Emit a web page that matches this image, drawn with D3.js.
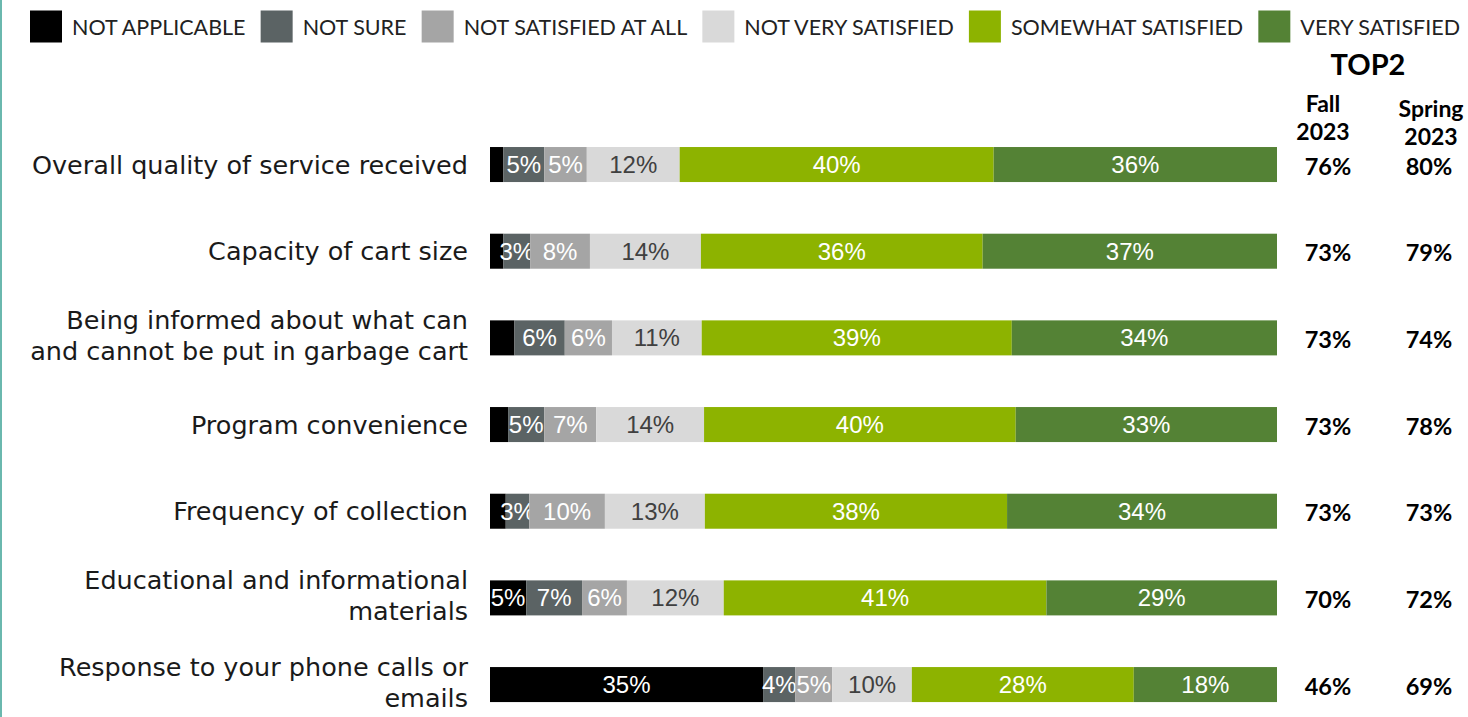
<!DOCTYPE html>
<html>
<head>
<meta charset="utf-8">
<script src="https://cdn.jsdelivr.net/npm/d3@7"></script>
<style>
  body { margin: 0; background: #fff; overflow: hidden; }
  svg { display: block; }
</style>
</head>
<body>
<svg id="chart" width="1468" height="717"></svg>
<script>
// ---- data ----
var categories = [
  "Overall quality of service received",
  "Capacity of cart size",
  "Being informed about what can\nand cannot be put in garbage cart",
  "Program convenience",
  "Frequency of collection",
  "Educational and informational\nmaterials",
  "Response to your phone calls or\nemails"
];
var seriesNames = ["NOT APPLICABLE", "NOT SURE", "NOT SATISFIED AT ALL", "NOT VERY SATISFIED", "SOMEWHAT SATISFIED", "VERY SATISFIED"];
var seriesColors = ["#000000", "#5b6364", "#a5a5a5", "#d9d9d9", "#8db300", "#548235"];
var labelColors = ["#ffffff", "#ffffff", "#ffffff", "#404040", "#ffffff", "#ffffff"];
var labelMin = [4, 0, 0, 0, 0, 0];   // small "not applicable" slices carry no label

var notApplicable     = [1.7, 1.7, 3.1, 2.3, 2.0, 4.6, 34.7];
var notSure           = [5.2, 3.4, 6.4, 4.6, 3.0, 7.1, 4.1];
var notSatisfiedAtAll = [5.4, 7.6, 6.0, 6.6, 9.6, 5.7, 4.7];
var notVerySatisfied  = [11.8, 14.1, 11.4, 13.7, 12.7, 12.3, 10.1];
var somewhatSatisfied = [39.9, 35.8, 39.4, 39.6, 38.4, 41.0, 28.2];
var verySatisfied     = [36.0, 37.4, 33.7, 33.2, 34.3, 29.3, 18.2];

var top2Title = "TOP2";
var top2Columns = ["Fall\n2023", "Spring\n2023"];
var top2Fall   = [76, 73, 73, 73, 73, 70, 46];
var top2Spring = [80, 79, 74, 78, 73, 72, 69];

// ---- setup ----
var W = 1468, H = 717;
var labelFont = "'DejaVu Sans', Lato, sans-serif";
var legendFont = "Lato, 'Open Sans', sans-serif";
var barFont = "'Liberation Sans', Arial, sans-serif";

var svg = d3.select("#chart");

// teal rule on the left edge of the slide
svg.append("rect")
    .attr("x", 0).attr("y", 0)
    .attr("width", 2).attr("height", H)
    .attr("fill", "#6ab8ae");

var series = [notApplicable, notSure, notSatisfiedAtAll, notVerySatisfied, somewhatSatisfied, verySatisfied];
var rows = categories.map(function(c, i) {
  var r = { cat: c, idx: i };
  series.forEach(function(s, k) { r[k] = s[i]; });
  return r;
});

var x = d3.scaleLinear()
    .domain([0, 100])
    .range([490, 1277]);

var y = d3.scaleBand()
    .domain(d3.range(categories.length))
    .range([121.2, 727.9])
    .paddingInner(0.596)
    .paddingOuter(0.298);

var stacked = d3.stack().keys(d3.range(series.length))(rows);

// ---- bars ----
var layer = svg.selectAll(".layer")
    .data(stacked)
  .enter().append("g")
    .attr("class", "layer")
    .attr("fill", function(d) { return seriesColors[d.key]; });

layer.selectAll("rect")
    .data(function(d) { return d; })
  .enter().append("rect")
    .attr("x", function(d) { return x(d[0]); })
    .attr("y", function(d) { return y(d.data.idx); })
    .attr("width", function(d) { return x(d[1]) - x(d[0]); })
    .attr("height", y.bandwidth());

layer.selectAll("text")
    .data(function(d) { return d.map(function(e) { e.key = d.key; return e; }); })
  .enter().filter(function(d) { return (d[1] - d[0]) >= labelMin[d.key]; })
  .append("text")
    .attr("x", function(d) { return (x(d[0]) + x(d[1])) / 2; })
    .attr("y", function(d) { return y(d.data.idx) + y.bandwidth() / 2 + 8.5; })
    .attr("text-anchor", "middle")
    .attr("font-family", barFont)
    .attr("font-size", "24px")
    .attr("fill", function(d) { return labelColors[d.key]; })
    .text(function(d) { return Math.round(d[1] - d[0]) + "%"; });

// ---- category labels ----
var catLabel = svg.append("g").selectAll("text")
    .data(rows)
  .enter().append("text")
    .attr("text-anchor", "end")
    .attr("font-family", labelFont)
    .attr("font-size", "25.5px")
    .attr("fill", "#1a1a1a")
    .attr("y", function(d) {
      var lines = d.cat.split("\n").length;
      var mid = y(d.idx) + y.bandwidth() / 2;
      return lines > 1 ? mid - 9 : mid + 9;
    });

catLabel.selectAll("tspan")
    .data(function(d) { return d.cat.split("\n"); })
  .enter().append("tspan")
    .attr("x", 468)
    .attr("dy", function(d, i) { return i ? 31 : 0; })
    .text(function(d) { return d; });

// ---- TOP2 columns ----
var col = d3.scalePoint()
    .domain(d3.range(top2Columns.length))
    .range([1328, 1429]);

svg.append("text")
    .attr("x", 1368)
    .attr("y", 75)
    .attr("text-anchor", "middle")
    .attr("font-family", legendFont)
    .attr("font-weight", "bold")
    .attr("font-size", "29px")
    .attr("fill", "#000")
    .text(top2Title);

var head = svg.append("g").selectAll("text")
    .data(top2Columns)
  .enter().append("text")
    .attr("text-anchor", "middle")
    .attr("font-family", legendFont)
    .attr("font-weight", "bold")
    .attr("font-size", "23px")
    .attr("fill", "#000")
    .attr("y", function(d, i) { return i ? 117 : 112; });

head.selectAll("tspan")
    .data(function(d, i) { return d.split("\n").map(function(t) { return { t: t, c: i }; }); })
  .enter().append("tspan")
    .attr("x", function(d) { return col(d.c) - (d.c ? -2 : 5); })
    .attr("dy", function(d, i) { return i ? 27.5 : 0; })
    .text(function(d) { return d.t; });

[top2Fall, top2Spring].forEach(function(vals, c) {
  svg.append("g").selectAll("text")
      .data(vals)
    .enter().append("text")
      .attr("x", col(c))
      .attr("y", function(d, i) { return y(i) + y.bandwidth() / 2 + 10; })
      .attr("text-anchor", "middle")
      .attr("font-family", legendFont)
      .attr("font-weight", "bold")
      .attr("font-size", "23.5px")
      .attr("fill", "#000")
      .text(function(d) { return d + "%"; });
});

// ---- legend (flowed, spread across the top) ----
var legend = svg.append("g");
var items = legend.selectAll("g")
    .data(seriesNames)
  .enter().append("g");

items.append("rect")
    .attr("y", 10.5)
    .attr("width", 32)
    .attr("height", 32)
    .attr("fill", function(d, i) { return seriesColors[i]; });

items.append("text")
    .attr("x", 42)
    .attr("y", 35)
    .attr("font-family", legendFont)
    .attr("font-size", "21.5px")
    .attr("fill", "#222")
    .text(function(d) { return d; });

var widths = [];
items.each(function() { widths.push(42 + d3.select(this).select("text").node().getComputedTextLength()); });
var left = 30, right = 1460;
var gap = (right - left - d3.sum(widths)) / (widths.length - 1);
var pos = left;
items.attr("transform", function(d, i) {
  var t = "translate(" + pos + ",0)";
  pos += widths[i] + gap;
  return t;
});
</script>
</body>
</html>
